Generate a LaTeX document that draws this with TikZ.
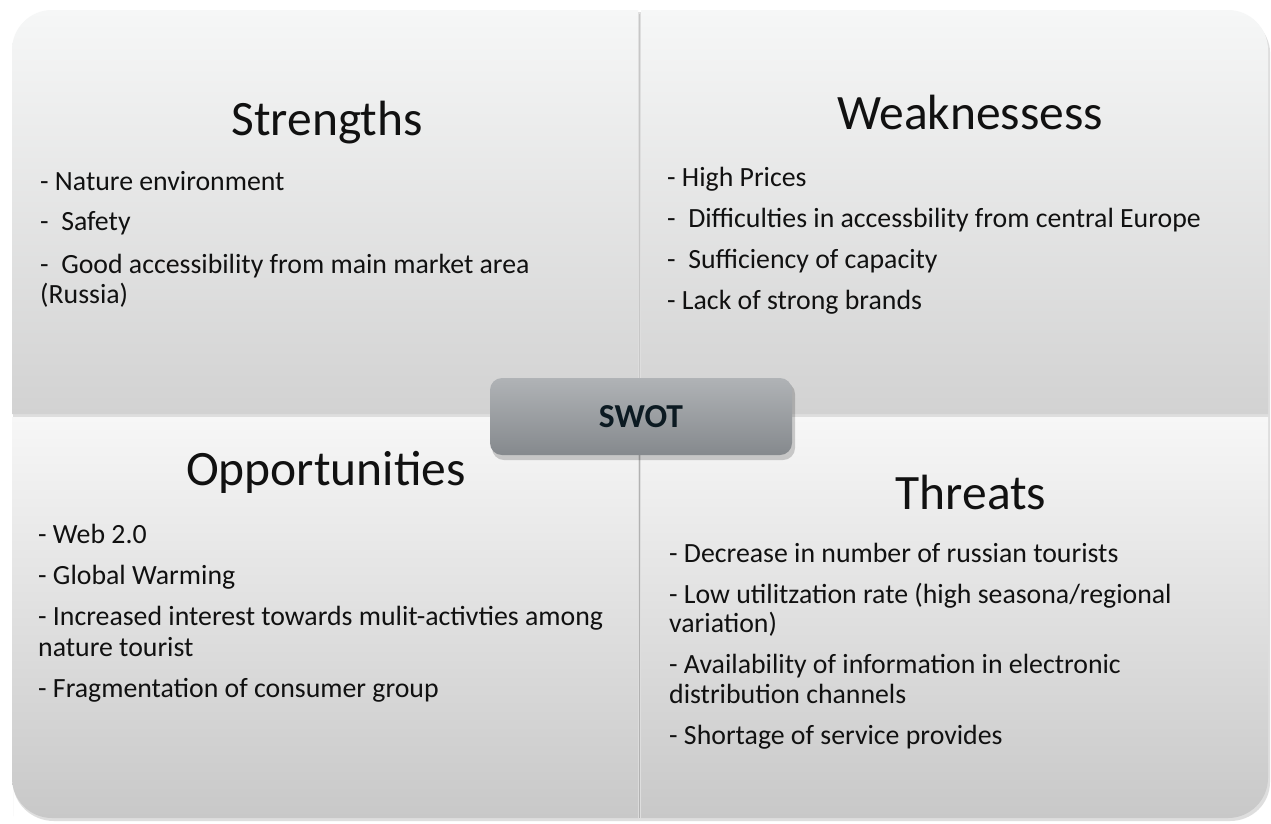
\documentclass[tikz,border=0pt]{standalone}
\usepackage{fontspec}
\setmainfont{Carlito}
\definecolor{qtop}{HTML}{F6F7F7}
\definecolor{qbot}{HTML}{D2D2D2}
\definecolor{qtopB}{HTML}{F7F7F7}
\definecolor{qbotB}{HTML}{C8C8C8}
\definecolor{stop}{HTML}{B0B3B6}
\definecolor{sbot}{HTML}{85898D}
\definecolor{ink}{HTML}{111111}
\definecolor{swink}{HTML}{0C1A22}
\tikzset{
  ttl/.style={anchor=base, font=\fontsize{49.5}{56}\selectfont, text=ink, inner sep=0pt},
  itm/.style={anchor=base west, font=\fontsize{27.8}{31}\selectfont, text=ink, inner sep=0pt},
  shade1/.style={top color=qtop, bottom color=qbot},
  shade2/.style={top color=qtopB, bottom color=qbotB},
}
\begin{document}
\begin{tikzpicture}[x=1pt,y=-1pt]
\useasboundingbox (0,0) rectangle (1271,823);
\fill[white] (0,0) rectangle (1271,823);
% shadows
\fill[black!25, opacity=0.5] (13,816) -- (13,62) .. controls (13,34) and (30,12) .. (54,12) -- (1229,12) .. controls (1252,12) and (1270,34) .. (1270,52) -- (1270,782) .. controls (1270,804) and (1252,821) .. (1230,821) -- (54,821) .. controls (32,821) and (13,804) .. (13,782) -- cycle;
% quadrants
\path[shade1] (12,414) -- (12,50) .. controls (12,28) and (30,10) .. (52,10) -- (638,10) -- (638,414) -- cycle;
\path[shade1] (641,414) -- (641,10) -- (1228,10) .. controls (1250,10) and (1268,28) .. (1268,50) -- (1268,414) -- cycle;
\path[shade2] (12,417) -- (638,417) -- (638,818) -- (52,818) .. controls (30,818) and (12,800) .. (12,778) -- cycle;
\path[shade2] (641,417) -- (1268,417) -- (1268,778) .. controls (1268,800) and (1250,818) .. (1228,818) -- (641,818) -- cycle;
\draw[black!22, line width=1.2pt] (639.5,14) -- (639.5,414);
\draw[black!30, line width=1.4pt] (639.5,417) -- (639.5,818);
% titles
\node[ttl] (S) at (327,135) {Strengths};
\node[ttl] (W) at (970,129) {Weaknessess};
\node[ttl] (O) at (326,485) {Opportunities};
\node[ttl] (T) at (971,509) {Threats};
% strengths
\node[itm] (s1) at (40,190) {- Nature environment};
\node[itm] (s2) at (40,230) {-~ Safety};
\node[itm] (s3) at (40,273) {-~ Good accessibility from main market area};
\node[itm] (s4) at (40,303) {(Russia)};
% weaknesses
\node[itm] (w1) at (667,186) {- High Prices};
\node[itm] (w2) at (667,227) {-~ Difficulties in accessbility from central Europe};
\node[itm] (w3) at (667,268) {-~ Sufficiency of capacity};
\node[itm] (w4) at (667,309) {- Lack of strong brands};
% opportunities
\node[itm] (o1) at (38,543) {- Web 2.0};
\node[itm] (o2) at (38,584) {- Global Warming};
\node[itm] (o3) at (38,625) {- Increased interest towards mulit-activties among};
\node[itm] (o4) at (38,656) {nature tourist};
\node[itm] (o5) at (38,697) {- Fragmentation of consumer group};
% threats
\node[itm] (t1) at (669,562) {- Decrease in number of russian tourists};
\node[itm] (t2) at (669,603) {- Low utilitzation rate (high seasona/regional};
\node[itm] (t3) at (669,632) {variation)};
\node[itm] (t4) at (669,673) {- Availability of information in electronic};
\node[itm] (t5) at (669,703) {distribution channels};
\node[itm] (t6) at (669,744) {- Shortage of service provides};
% SWOT box
\fill[black, opacity=0.18, rounded corners=12pt] (492,382) rectangle (795,460);
\path[rounded corners=12pt, top color=stop, bottom color=sbot] (490,378) rectangle (792,455);
\node[font=\bfseries\fontsize{33.5}{38}\selectfont, text=swink, inner sep=0pt] (C) at (641,417) {SWOT};
\end{tikzpicture}
\end{document}
